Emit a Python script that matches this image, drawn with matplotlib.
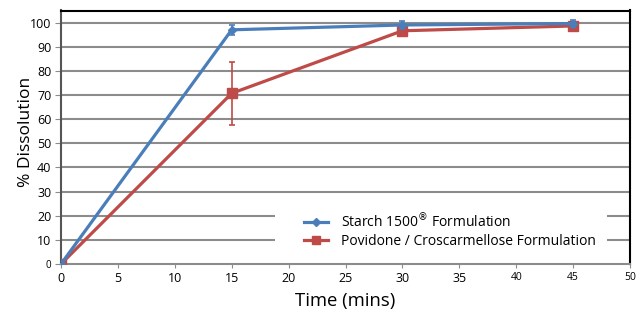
import matplotlib
matplotlib.use("Agg")
import matplotlib.pyplot as plt
from matplotlib.lines import Line2D
from matplotlib.patches import Rectangle

time = [0, 15, 30, 45]
starch = [0, 97.0, 99.0, 99.6]
starch_err = [0, 2.0, 1.5, 1.5]
povidone = [0, 70.7, 96.6, 98.6]
povidone_err = [0, 13.1, 1.2, 1.2]
xticks = [0, 5, 10, 15, 20, 25, 30, 35, 40, 45, 50]
yticks = [0, 10, 20, 30, 40, 50, 60, 70, 80, 90, 100]
series_labels = ["Starch 1500$^{\\circledR}$ Formulation", "Povidone / Croscarmellose Formulation"]

plt.rcParams['font.family'] = ['Open Sans', 'DejaVu Sans']

blue = "#4A7EBB"
red = "#BE4B48"

fig = plt.figure(figsize=(6.4, 3.1), dpi=100)
ax = fig.add_axes([61/640, 46/310, (630-61)/640, (264-10.5)/310])

for y in yticks[1:]:
    ax.axhline(y, color="#8c8c8c", lw=1.5, zorder=1)

# white area behind the legend
ax.add_patch(Rectangle((0.376, 0.04), 0.583, 0.175, transform=ax.transAxes,
                       facecolor="white", edgecolor="none", zorder=2))

ax.errorbar(time, starch, yerr=starch_err, color=blue, lw=2.3, marker="D", ms=4.5,
            capsize=2.5, elinewidth=1.2, capthick=1.2, zorder=4)
ax.errorbar(time, povidone, yerr=povidone_err, color=red, lw=2.3, marker="s", ms=6.5,
            capsize=2.5, elinewidth=1.2, capthick=1.2, zorder=3)

ax.set_xlim(0, 50)
ax.set_ylim(0, 105)
ax.set_xticks(xticks)
ax.set_yticks(yticks)
ax.set_xticklabels([str(v) for v in xticks])
ax.set_yticklabels([str(v) for v in yticks])
for lbl in ax.get_xticklabels():
    lbl.set_fontsize(7.5 if lbl.get_text() in ("40", "45", "50") else 9)
for lbl in ax.get_yticklabels():
    lbl.set_fontsize(7 if lbl.get_text() == "0" else 9)

ax.tick_params(axis="both", color="#8c8c8c", pad=2)
ax.tick_params(axis="y", length=4, direction="out", pad=3)
ax.tick_params(axis="x", direction="out", length=3, pad=3)

ax.spines["top"].set_color("black")
ax.spines["top"].set_linewidth(1.5)
ax.spines["right"].set_color("black")
ax.spines["right"].set_linewidth(1.5)
ax.spines["left"].set_color("#555555")
ax.spines["left"].set_linewidth(1.5)
ax.spines["bottom"].set_color("#8c8c8c")
ax.spines["bottom"].set_linewidth(1.5)

ax.set_xlabel("Time (mins)", fontsize=13.3, labelpad=5)
ax.set_ylabel("% Dissolution", fontsize=12.5)
ax.yaxis.set_label_coords(-0.047, 0.52)

handles = [Line2D([0], [0], color=blue, lw=2.3, marker="D", ms=4),
           Line2D([0], [0], color=red, lw=2.3, marker="s", ms=6)]
leg = ax.legend(handles, series_labels, loc="center left", bbox_to_anchor=(0.427, 0.132),
                frameon=False, fontsize=10, handlelength=1.75, handletextpad=0.9,
                labelspacing=0.2, borderpad=0, borderaxespad=0)
leg.set_zorder(5)

fig.savefig("out.png", dpi=100)
